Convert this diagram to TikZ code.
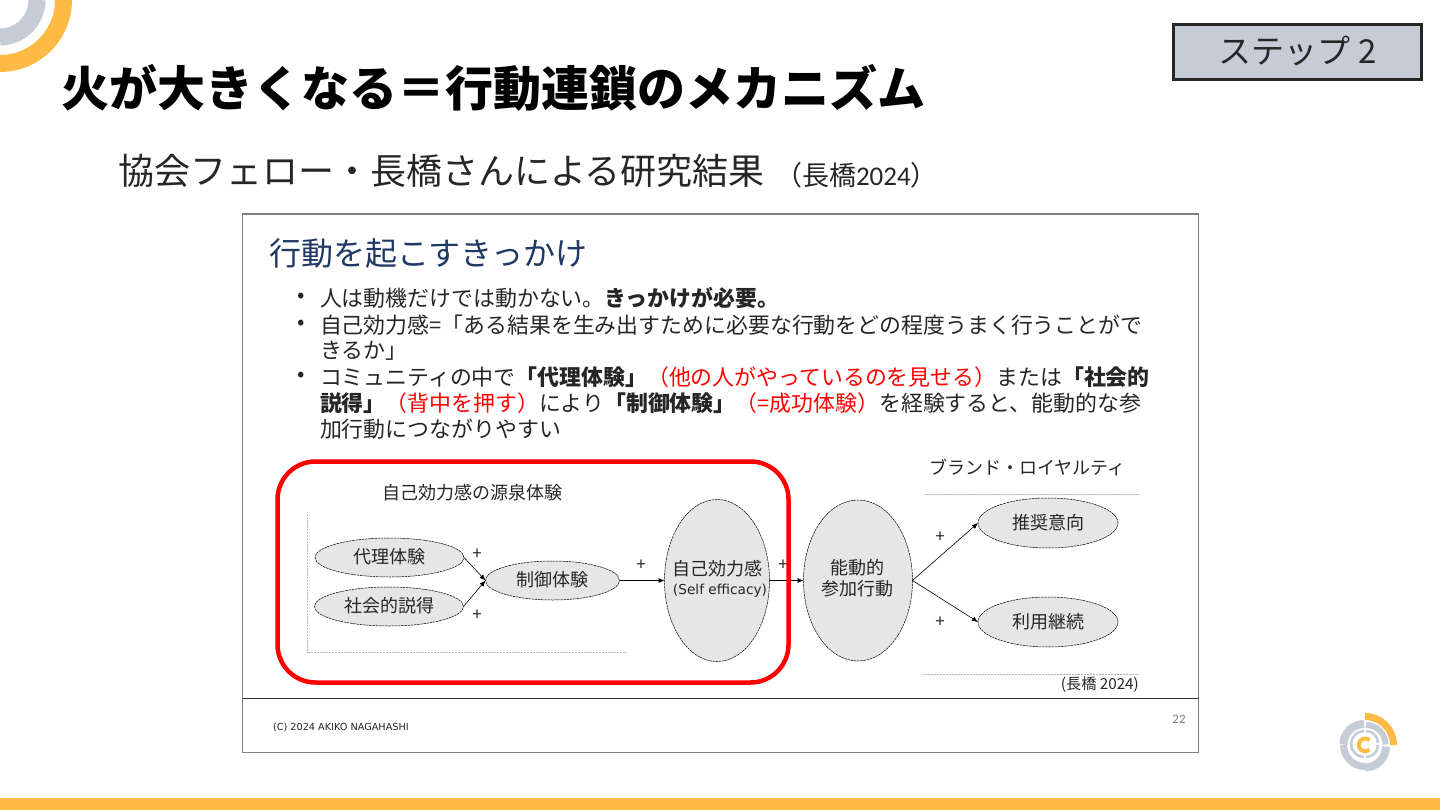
\documentclass[tikz,border=0pt]{standalone}
\usepackage{fontspec}
\setmainfont{Noto Sans CJK JP}
\newfontfamily\latinf{Carlito}
\newfontfamily\verd{DejaVu Sans}
\usetikzlibrary{shapes.geometric,arrows.meta}
\definecolor{gold}{HTML}{FDBA45}
\definecolor{greyc}{HTML}{C6CCD5}
\definecolor{ovalfill}{HTML}{E6E6E6}
\definecolor{headblue}{HTML}{1F3864}
\definecolor{txt}{HTML}{262626}
\newcommand{\fs}[1]{\fontsize{#1}{#1}\selectfont}
\newcommand{\rd}[1]{\textcolor{red}{#1}}
\newcommand{\bb}[1]{\textbf{#1}}
\newcommand{\up}[1]{\raisebox{3pt}{#1}}
\tikzset{
 x=1pt,y=-1pt,
 txtnode/.style={anchor=west,inner sep=0pt,outer sep=0pt,text=black},
 oval/.style={ellipse,draw=black,dash pattern=on 2.5pt off 0.7pt,line width=0.5pt,fill=ovalfill,inner sep=0pt,outer sep=0pt,text=txt,align=center,font=\fs{18}},
 arr/.style={draw=black,line width=0.6pt,-{Latex[length=6pt,width=5pt]}},
 guide/.style={draw=gray!60,densely dotted,line width=0.5pt},
 plus/.style={inner sep=0pt,font=\fs{17},text=txt},
 diag/.style={inner sep=0pt,anchor=west,text=txt,font=\fs{18}},
 body/.style={txtnode,font=\fs{21.9},text=txt},
 lab/.style={inner sep=0pt,font=\fs{18},text=txt},
}
\begin{document}
\begin{tikzpicture}
\useasboundingbox (0,0) rectangle (1440,810);
\fill[white] (0,0) rectangle (1440,810);
% corner arcs
\begin{scope}
\clip (0,0) rectangle (80,80);
\draw[gold,line width=17pt] (0,63.5) arc[start angle=90,end angle=0,radius=63.5];
\draw[greyc,line width=17pt] (0,37) arc[start angle=90,end angle=0,radius=37];
\end{scope}
% footer band
\fill[gold] (0,798) rectangle (1440,810);
% title
\node[txtnode,font=\fs{48}\bfseries] (title) at (61,88) {火が大きくなる＝行動連鎖のメカニズム};
\node[txtnode,font=\fs{36},text=txt] (sub) at (118,171) {協会フェロー・長橋さんによる研究結果};
\node[txtnode,font=\fs{27},text=txt] (subref) at (775,175) {（長橋{\latinf 2024}）};
% step box
\node[draw=black!85,line width=2.5pt,fill=greyc,minimum width=248pt,minimum height=55pt,inner sep=0pt,font=\fs{33},text=txt] (stepbox) at (1297.5,52) {\raisebox{5pt}{ステップ 2}};
% slide frame
\draw[draw=gray,line width=1.8pt,fill=white] (242.5,214) rectangle (1198.5,752.5);
\draw[draw=black!80,line width=1.5pt] (242.5,698.5) -- (1198.5,698.5);
\node[txtnode,font=\fs{32},text=headblue] (head) at (269,253) {行動を起こすきっかけ};
% bullets
\node[body] (b1) at (297,298) {•};
\node[body] (l1) at (320,298) {人は動機だけでは動かない。\bb{きっかけが必要。}};
\node[body] (b2) at (297,325) {•};
\node[body] (l2) at (320,325) {自己効力感=「ある結果を生み出すために必要な行動をどの程度うまく行うことがで};
\node[body] (l2b) at (320,351) {きるか」};
\node[body] (b3) at (297,377) {•};
\node[body] (l3) at (320,377) {コミュニティの中で\bb{「代理体験」}\rd{（他の人がやっているのを見せる）}または\bb{「社会的}};
\node[body] (l3b) at (320,403) {\bb{説得」}\rd{（背中を押す）}により\bb{「制御体験」}\rd{（=成功体験）}を経験すると、能動的な参};
\node[body] (l3c) at (320,429) {加行動につながりやすい};
% diagram guides
\draw[guide] (307,512) -- (307,652.5) -- (626,652.5);
\draw[guide] (924,494) -- (1139,494);
\draw[guide] (923,674.5) -- (1139,674.5);
% ovals
\node[oval,minimum width=149pt,minimum height=39pt] (dairi) at (389.5,557.5) {\up{代理体験}};
\node[oval,minimum width=149pt,minimum height=39pt] (settoku) at (389,606.5) {\up{社会的説得}};
\node[oval,minimum width=134pt,minimum height=39pt] (seigyo) at (552.5,580.5) {\up{制御体験}};
\node[oval,minimum width=105pt,minimum height=162pt] (jiko) at (717,580.5) {};
\node[oval,minimum width=109pt,minimum height=161pt] (nodo) at (858,580.5) {};
\node[oval,minimum width=140pt,minimum height=50pt] (suisho) at (1048,523) {\up{推奨意向}};
\node[oval,minimum width=140pt,minimum height=50pt] (riyo) at (1048,622) {\up{利用継続}};
% oval labels
\node[lab] (jikol) at (717,569) {自己効力感};
\node[inner sep=0pt,font=\verd\fs{13.7},text=txt] (jikoe) at (720,591) {(Self efficacy)};
\node[lab] (nodol1) at (857,568) {能動的};
\node[lab] (nodol2) at (857,589) {参加行動};
% connectors
\draw[arr] (dairi.east) -- (seigyo.west);
\draw[arr] (settoku.east) -- (seigyo.west);
\draw[arr] (seigyo.east) -- (jiko.west);
\draw[arr] (jiko.east) -- (nodo.west);
\draw[arr] (nodo.east) -- (suisho.west);
\draw[arr] (nodo.east) -- (riyo.west);
% plus labels
\node[plus] (p1) at (477,554) {+};
\node[plus] (p2) at (477,615) {+};
\node[plus] (p3) at (641,565) {+};
\node[plus] (p4) at (783,565) {+};
\node[plus] (p5) at (940,537) {+};
\node[plus] (p6) at (940,622) {+};
% diagram labels
\node[diag] (src) at (382,493) {自己効力感の源泉体験};
\node[diag] (brand) at (929,467) {ブランド・ロイヤルティ};
\node[inner sep=0pt,anchor=east,font=\fs{15.2},text=txt] (ref) at (1139,685) {(長橋 2024)};
% red highlight
\draw[draw=red,line width=4.5pt,rounded corners=38pt] (277.5,461.5) rectangle (788.5,682.5);
% footer text
\node[txtnode,font=\verd\fs{9.7},text=txt] (copy) at (273,727) {(C) 2024 AKIKO NAGAHASHI};
\node[inner sep=0pt,font=\latinf\fs{13},text=gray] (pg) at (1179,719) {22};
% logo
\draw[greyc,line width=8pt] (1364,724) arc[start angle=270,end angle=180,radius=20.5];
\draw[greyc,line width=7pt] (1343.5,745) arc[start angle=180,end angle=90,radius=21.5];
\draw[greyc,line width=8pt] (1386,746.5) arc[start angle=0,end angle=90,radius=21];
\draw[greyc,line width=6pt] (1366,725) arc[start angle=270,end angle=360,radius=19.5];
\draw[gold,line width=7pt] (1365,716.5) arc[start angle=270,end angle=360,radius=28.5];
\draw[greyc,line width=2.5pt] (1364,731) arc[start angle=270,end angle=90,radius=13];
\draw[greyc,line width=2.5pt] (1366,731) arc[start angle=270,end angle=360,radius=12];
\draw[greyc,line width=2.5pt] (1378,745) arc[start angle=0,end angle=90,radius=12];
\draw[gold,line width=4pt] (1369.5,740) arc[start angle=310,end angle=50,radius=6.5];
\end{tikzpicture}
\end{document}
